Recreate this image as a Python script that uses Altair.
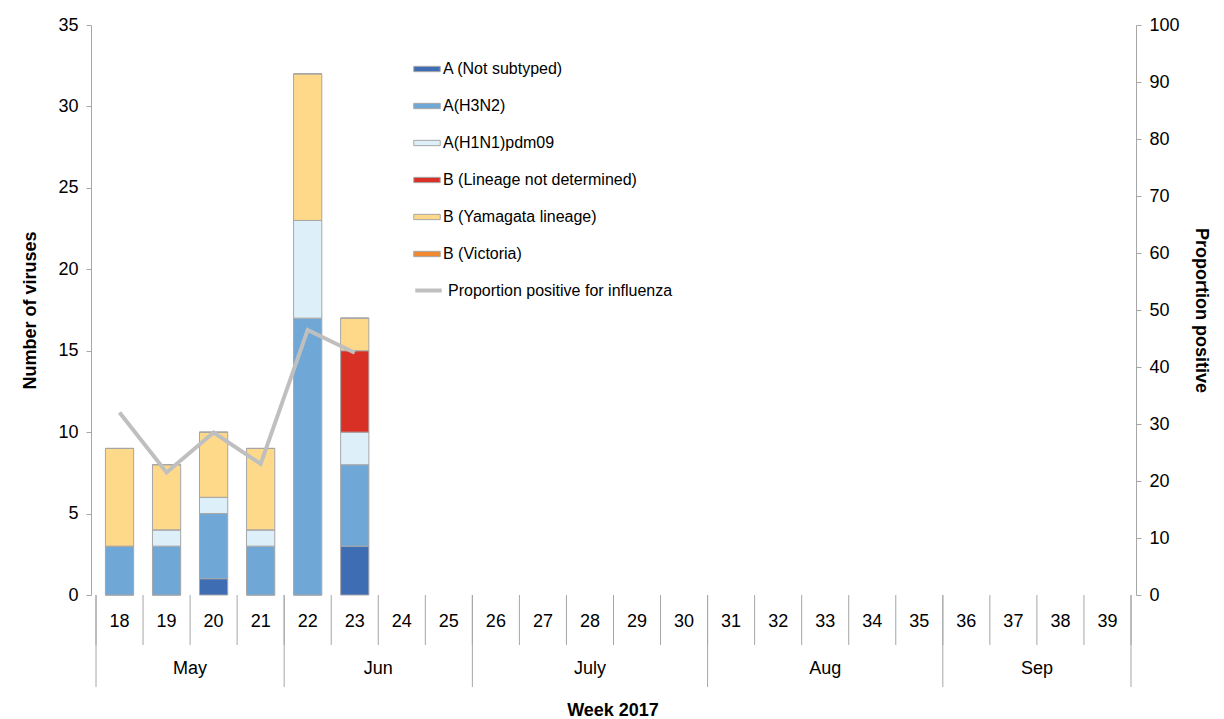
import altair as alt
import pandas as pd

weeks = list(range(18, 40))
types = ["A (Not subtyped)", "A(H3N2)", "A(H1N1)pdm09",
         "B (Lineage not determined)", "B (Yamagata lineage)", "B (Victoria)"]
colors = ["#3F6DB3", "#6FA8D6", "#DDF0FA", "#D93025", "#FFD98A", "#F0892E"]

not_sub = [0, 0, 1, 0, 0, 3]
h3n2 = [3, 3, 4, 3, 17, 5]
h1n1 = [0, 1, 1, 1, 6, 2]
b_nd = [0, 0, 0, 0, 0, 5]
yamagata = [6, 4, 4, 5, 9, 2]
victoria = [0, 0, 0, 0, 0, 0]
bar_weeks = [18, 19, 20, 21, 22, 23]
proportion = [32, 21.5, 28.5, 23, 46.5, 42.5]

months = ["May", "Jun", "July", "Aug", "Sep"]
month_start = [18, 22, 26, 31, 36]
month_end = [21, 25, 30, 35, 39]

rows = []
for i, w in enumerate(bar_weeks):
    for k, (t, vals) in enumerate(zip(types, [not_sub, h3n2, h1n1, b_nd, yamagata, victoria])):
        rows.append({"week": w, "lo": w - 0.3, "hi": w + 0.3, "type": t, "n": vals[i], "ord": k})
bars_df = pd.DataFrame(rows)
line_df = pd.DataFrame({"week": bar_weeks, "prop": proportion,
                        "series": ["Proportion positive for influenza"] * len(bar_weeks)})
week_df = pd.DataFrame({"week": weeks})
sep_df = pd.DataFrame({"b": [w - 0.5 for w in weeks] + [weeks[-1] + 0.5]})
mon_df = pd.DataFrame({"month": months,
                       "mid": [(s + e) / 2 for s, e in zip(month_start, month_end)]})
mon_sep = pd.DataFrame({"b": [s - 0.5 for s in month_start] + [month_end[-1] + 0.5]})

xs = alt.Scale(domain=[17.5, 39.5], nice=False, zero=False)
font = "Liberation Sans"

bars = alt.Chart(bars_df).mark_bar(stroke="#A6A6A6", strokeWidth=1).encode(
    x=alt.X("lo:Q", scale=xs, axis=None),
    x2="hi:Q",
    y=alt.Y("sum(n):Q", scale=alt.Scale(domain=[0, 35]),
            axis=alt.Axis(title="Number of viruses", values=list(range(0, 36, 5)), grid=False,
                          labelFontSize=18, titleFontSize=18, titleFontWeight="bold",
                          domainColor="#A6A6A6", tickColor="#A6A6A6", labelColor="#000",
                          titleColor="#000", labelFont=font, titleFont=font, titlePadding=18,
                          labelPadding=8)),
    color=alt.Color("type:N", scale=alt.Scale(domain=types, range=colors),
                    legend=alt.Legend(title=None, orient="none", legendX=322, legendY=30,
                                      symbolType="M-1,-0.2H1V0.2H-1Z", symbolSize=700,
                                      symbolStrokeColor="#A6A6A6", symbolStrokeWidth=1,
                                      labelFontSize=16, labelFont=font, rowPadding=15,
                                      labelOffset=2, labelLimit=0)),
    order=alt.Order("ord:Q"),
)

line = alt.Chart(line_df).mark_line(color="#BFBFBF", strokeWidth=4).encode(
    x=alt.X("week:Q", scale=xs, axis=None),
    y=alt.Y("prop:Q", scale=alt.Scale(domain=[0, 100]),
            axis=alt.Axis(title="Proportion positive", orient="right", values=list(range(0, 101, 10)),
                          grid=False, labelFontSize=18, titleFontSize=18, titleFontWeight="bold",
                          domainColor="#A6A6A6", tickColor="#A6A6A6", labelColor="#000",
                          titleColor="#000", labelFont=font, titleFont=font, titlePadding=12,
                          labelPadding=8)),
    stroke=alt.Stroke("series:N", scale=alt.Scale(range=["#BFBFBF"]),
                      legend=alt.Legend(title=None, orient="none", legendX=322, legendY=250,
                                        symbolType="stroke", symbolStrokeWidth=4, symbolSize=700,
                                        labelFontSize=16, labelFont=font, labelLimit=0)),
)

base_x = alt.X("b:Q", scale=xs, axis=None)
wsep = alt.Chart(sep_df).mark_rule(color="#A6A6A6").encode(
    x=base_x, y=alt.value(570), y2=alt.value(620))
msep = alt.Chart(mon_sep).mark_rule(color="#A6A6A6").encode(
    x=base_x, y=alt.value(570), y2=alt.value(662))
wlab = alt.Chart(week_df).mark_text(fontSize=18, font=font, baseline="middle").encode(
    x=alt.X("week:Q", scale=xs, axis=None), y=alt.value(597), text="week:N")
mlab = alt.Chart(mon_df).mark_text(fontSize=18, font=font, baseline="middle").encode(
    x=alt.X("mid:Q", scale=xs, axis=None), y=alt.value(644), text="month:N")
xtitle = alt.Chart(pd.DataFrame({"t": ["Week 2017"]})).mark_text(
    fontSize=18, font=font, fontWeight="bold", baseline="middle").encode(
    x=alt.value(522), y=alt.value(686), text="t:N")

chart = alt.layer(
    alt.layer(bars, wsep, msep, wlab, mlab, xtitle), line
).resolve_scale(y="independent", color="independent").properties(
    width=1045, height=570, padding={"top": 8, "left": 13, "right": 5, "bottom": 0}
).configure_view(stroke=None)

chart.save("out.html", embed_options={"renderer": "svg", "actions": False})
